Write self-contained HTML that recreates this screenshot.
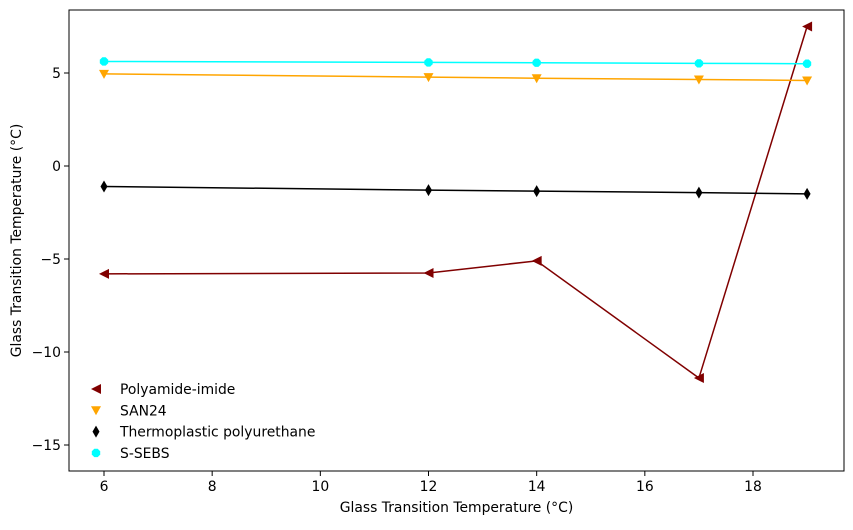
<!DOCTYPE html>
<html><head><meta charset="utf-8"><style>
body{margin:0;background:#fff;font-family:"Liberation Sans","DejaVu Sans",sans-serif;}
svg text{font-family:"DejaVu Sans","Liberation Sans",sans-serif;font-size:13.9px;fill:#000;}
</style></head><body>
<svg id="chart" width="853" height="525" xmlns="http://www.w3.org/2000/svg"></svg>
<script>
const xValues=[6,12,14,17,19];
const seriesNames=["Polyamide-imide","SAN24","Thermoplastic polyurethane","S-SEBS"];
const polyamide=[-5.8,-5.75,-5.1,-11.4,7.5];
const san24=[4.95,4.78,4.72,4.65,4.6];
const tpu=[-1.1,-1.3,-1.35,-1.43,-1.5];
const ssebs=[5.62,5.57,5.55,5.52,5.5];
const xTicks=[6,8,10,12,14,16,18];
const yTicks=[5,0,-5,-10,-15];
const colors=["#800000","#FFA500","#000000","#00FFFF"];
const markers=["tleft","tdown","diamond","oct"];
const allSeries=[polyamide,san24,tpu,ssebs];
const NS="http://www.w3.org/2000/svg";
const svg=document.getElementById('chart');
const L=69,R=844,T=10,B=471;
const sx=v=>104+(v-6)*(753-104)/12;
const sy=v=>166-v*(166-73)/5;
function mk(tag,attrs,parent){const e=document.createElementNS(NS,tag);for(const k in attrs)e.setAttribute(k,attrs[k]);(parent||svg).appendChild(e);return e;}
function marker(type,x,y,c,g){
 let p;
 if(type==="tleft")p=`${x-5},${y} ${x+5},${y-5} ${x+5},${y+5}`;
 else if(type==="tdown")p=`${x-5},${y-4} ${x+5},${y-4} ${x},${y+5}`;
 else if(type==="diamond")p=`${x},${y-6} ${x+3.5},${y} ${x},${y+6} ${x-3.5},${y}`;
 else {const pts=[];for(let i=0;i<8;i++){const a=Math.PI/8+i*Math.PI/4;pts.push((x+4.5*Math.cos(a)).toFixed(1)+","+(y+4.5*Math.sin(a)).toFixed(1));}p=pts.join(" ");}
 const e=mk('polygon',{points:p,fill:c},g);
 
 
}
allSeries.forEach((s,i)=>{
 const g=mk('g',{});
 
 
 const pl=mk('polyline',{points:s.map((v,j)=>sx(xValues[j])+","+sy(v)).join(" "),fill:"none",stroke:colors[i],"stroke-width":1.5},g);
 
 
 s.forEach((v,j)=>marker(markers[i],sx(xValues[j]),sy(v),colors[i],g));
});
const frame=mk('rect',{x:L,y:T,width:R-L,height:B-T,fill:"none",stroke:"#000","stroke-width":1});


xTicks.forEach(t=>{
 const x=sx(t);
 mk('line',{x1:x,x2:x,y1:B,y2:B+5,stroke:"#000","stroke-width":1});
 const tx=mk('text',{x:x,y:B+20,"text-anchor":"middle"});tx.textContent=t;
 
 
});
yTicks.forEach(t=>{
 const y=sy(t);
 mk('line',{x1:L-5,x2:L,y1:y,y2:y,stroke:"#000","stroke-width":1});
 const tx=mk('text',{x:L-8,y:y+5,"text-anchor":"end"});tx.textContent=t===0?"0":(t<0?"\u2212"+(-t):t);
 
 
});
const xt=mk('text',{x:(L+R)/2,y:512,"text-anchor":"middle"});xt.textContent="Glass Transition Temperature (°C)";


const yt=mk('text',{x:21,y:(T+B)/2,"text-anchor":"middle",transform:`rotate(-90 21 ${(T+B)/2})`});yt.textContent="Glass Transition Temperature (°C)";


seriesNames.forEach((n,i)=>{
 const y=389+i*21.3;
 const g=mk('g',{});
 
 
 marker(markers[i],96,y,colors[i],g);
 const t=mk('text',{x:120,y:y+5},g);t.textContent=n;
});
</script>
</body></html>
